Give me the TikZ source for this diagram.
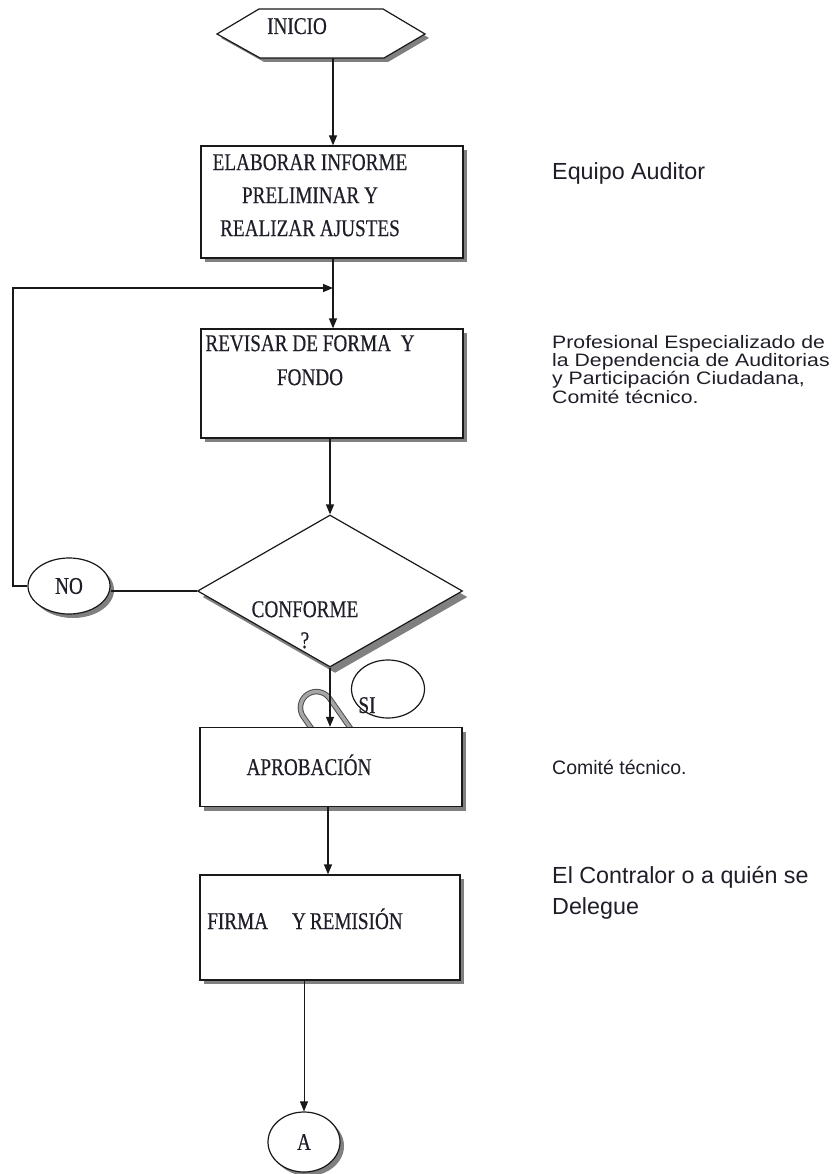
\documentclass[tikz,border=0pt]{standalone}
\usepackage{fontspec}
\setmainfont{Liberation Serif}
\newfontfamily\boxfont[FakeStretch=0.8, FakeBold=0.4]{Liberation Serif}
\newfontfamily\notefont{Liberation Sans}
\newfontfamily\widenotefont[FakeStretch=1.18]{Liberation Sans}
\newcommand\tightlines{\lineskiplimit=-10pt\relax}
\definecolor{myLine}{RGB}{25,25,25}
\definecolor{myShadow}{RGB}{128,128,128}
\definecolor{myText}{RGB}{30,30,40}
\usetikzlibrary{arrows.meta, positioning, calc, shapes.geometric, shapes.misc, shadows}

\begin{document}
\begin{tikzpicture}[x=1pt, y=-1pt,
  >={Triangle[length=10pt, width=8pt]},
  shade/.style={drop shadow={shadow xshift=4pt, shadow yshift=-4pt, fill=myShadow, opacity=1}},
  proc/.style={draw=myLine, line width=1.3pt, fill=white, shade,
               minimum width=262pt, inner sep=0pt},
  decision/.style={diamond, draw=myLine, line width=1.2pt, fill=white,
                   drop shadow={shadow xshift=5pt, shadow yshift=-6pt, fill=myShadow, opacity=1},
                   minimum width=265pt, minimum height=152pt, inner sep=0pt},
  oval/.style={ellipse, draw=myLine, line width=1.2pt, fill=white, shade, inner sep=0pt,
               font=\boxfont\fontsize{24}{28}\selectfont, text=myText},
  boxtext/.style={inner sep=0pt, align=center, text=myText},
  note/.style={inner sep=0pt, align=left, text=myText},
  conn/.style={->, line width=1.3pt, draw=myLine}]
  \useasboundingbox (0,0) rectangle (836,1174);

  % inicio
  \draw[draw=myLine, line width=1.2pt, fill=white, shade]
    (217,34) -- (259,9) -- (383,9) -- (425,34) -- (384,58) -- (260,58) -- cycle;
  \node[boxtext, anchor=base, font=\boxfont\fontsize{24}{28}\selectfont] (inicio) at (297,34) {INICIO};
  \coordinate (inicioB) at (333,58);

  % column of steps
  \node[proc, minimum height=112pt] (elab) at (332,202) {};
  \node[boxtext, anchor=north, font=\boxfont\fontsize{24}{33}\selectfont] (elabtxt) at (310,154)
    {ELABORAR INFORME\\PRELIMINAR Y\\REALIZAR AJUSTES};
  \node[proc, minimum height=109pt] (rev) at (332,383.5) {};
  \node[boxtext, anchor=north, font=\boxfont\fontsize{24}{34}\selectfont] (revtxt) at (310,335)
    {REVISAR DE FORMA\ \ Y\\FONDO};

  \node[decision] (conf) at (330,591) {};
  \node[boxtext, anchor=north, font=\boxfont\fontsize{24}{31}\selectfont] (conftxt) at (305,601)
    {CONFORME\\?};
  \node[oval, minimum width=82pt, minimum height=56pt] (no) at (69,586) {NO};

  % si
  \node[rounded rectangle, draw=myShadow!60!black, line width=1pt,
        double=myShadow!70, double distance=3.5pt,
        minimum width=86pt, minimum height=32pt, rotate=-55] (sicinta) at (330,727) {};
  \node[ellipse, draw=myLine, line width=1.2pt, minimum width=73pt, minimum height=58pt] (siov) at (388,689) {};
  \node[boxtext, anchor=base, font=\boxfont\fontsize{24}{28}\selectfont] (si) at (367,713) {SI};

  \node[proc, minimum height=79pt] (aprob) at (331,767) {};
  \node[boxtext, anchor=base, font=\boxfont\fontsize{24}{28}\selectfont] (aprobtxt) at (309,775) {APROBACIÓN};
  \node[proc, minimum width=260pt, minimum height=105pt] (firma) at (330,927.5) {};
  \node[boxtext, anchor=base, font=\boxfont\fontsize{24}{28}\selectfont] (firmatxt) at (305,929)
    {FIRMA\quad Y\,REMISIÓN};
  \node[oval, minimum width=72pt, minimum height=60pt] (conA) at (304,1142) {A};

  % connectors
  \coordinate (lazo) at (13,288);
  \coordinate (junta) at (333,288);
  \draw[conn] (inicioB) -- (inicioB |- elab.north);
  \draw[conn] (elab.south -| junta) -- (rev.north -| junta);
  \draw[conn] (conf.north |- rev.south) -- (conf.north);
  \draw[line width=1.2pt, draw=myLine] (conf.west) -- (conf.west -| no.east);
  \draw[conn] (no.west) -- (no.west -| lazo) -- (lazo) -- (junta);
  \draw[conn] (conf.south) -- (conf.south |- aprob.north);
  \draw[conn] ([xshift=-3pt]aprob.south) -- ([xshift=-3pt]aprob.south |- firma.north);
  \draw[conn, line width=1pt] (conA.north |- firma.south) -- (conA.north);

  % responsables
  \node[note, anchor=base west, font=\notefont\fontsize{23.3}{27}\selectfont] (equipo) at (552,180) {Equipo Auditor};
  \node[note, anchor=north west, font=\widenotefont\fontsize{18}{18.3}\selectfont\tightlines] (prof) at (552,335)
    {Profesional Especializado de\\la Dependencia de Auditorias\\y Participación Ciudadana,\\Comité técnico.};
  \node[note, anchor=base west, font=\notefont\fontsize{19.5}{22}\selectfont] (comite) at (552,774) {Comité técnico.};
  \node[note, anchor=north west, font=\notefont\fontsize{23.3}{31}\selectfont] (contralor) at (552,866)
    {El Contralor o a quién se\\Delegue};
\end{tikzpicture}
\end{document}
